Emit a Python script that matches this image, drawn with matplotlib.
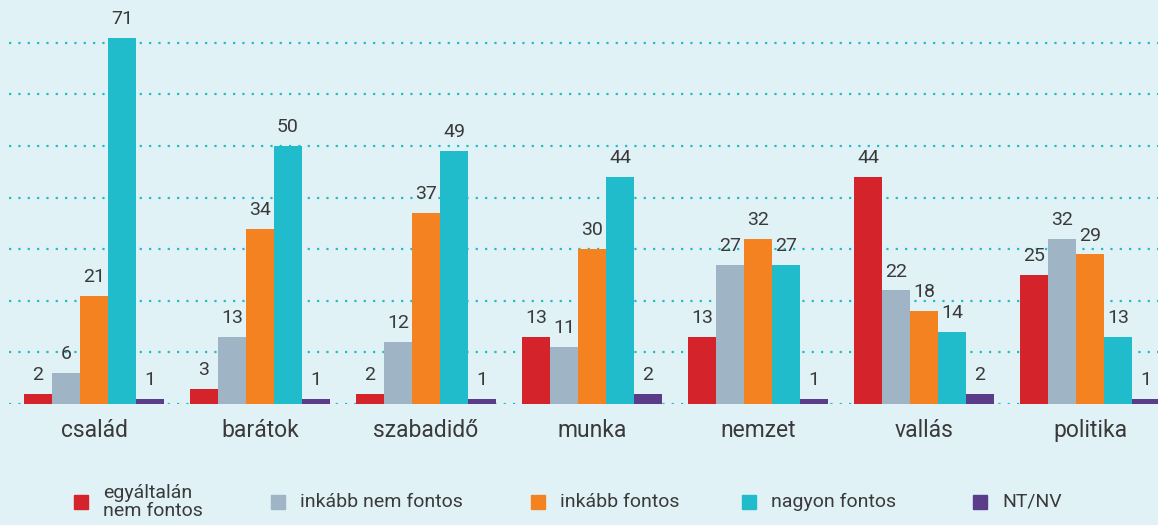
import numpy as np
import matplotlib.pyplot as plt
from matplotlib.patches import Rectangle

plt.rcParams['font.family'] = ['Roboto', 'DejaVu Sans']

# Adatok
categories = ['család', 'barátok', 'szabadidő', 'munka', 'nemzet', 'vallás', 'politika']
series_names = ['egyáltalán\nnem fontos', 'inkább nem fontos', 'inkább fontos', 'nagyon fontos', 'NT/NV']
egyaltalan = [2, 3, 2, 13, 13, 44, 25]
inkabb_nem = [6, 13, 12, 11, 27, 22, 32]
inkabb = [21, 34, 37, 30, 32, 18, 29]
nagyon = [71, 50, 49, 44, 27, 14, 13]
ntnv = [1, 1, 1, 2, 1, 2, 1]

colors = ['#d4232b', '#9fb5c5', '#f58220', '#20bccb', '#5b3c8a']
bg = '#e1f2f7'
txt = '#3a3a3a'

series = [egyaltalan, inkabb_nem, inkabb, nagyon, ntnv]

fig = plt.figure(figsize=(11.58, 5.25), dpi=100, facecolor=bg)
ax = fig.add_axes([9 / 1158, 121 / 525, 1149 / 1158, 404 / 525])
ax.set_facecolor(bg)

x = np.arange(len(categories))
w = 28 / 166
for i, (vals, c) in enumerate(zip(series, colors)):
    pos = x + (i - 2) * w
    ax.bar(pos, vals, width=w, color=c, zorder=3)
    for p, v in zip(pos, vals):
        ax.text(p, v + 1.9, str(v), ha='center', va='bottom', fontsize=14, color=txt)

# szaggatott rácsvonalak
for g in range(0, 80, 10):
    ax.axhline(g, color='#20bccb', linestyle=(0, (1, 3.2)), linewidth=1.6, zorder=1)

ax.set_xlim((9 - 94) / 166, (1158 - 94) / 166)
ax.set_ylim(0, 404 / 5.16)
for s in ax.spines.values():
    s.set_visible(False)
ax.set_yticks([])
ax.set_xticks(x)
ax.set_xticklabels(categories, fontsize=16.5, color=txt)
ax.tick_params(axis='x', length=0, pad=11)

# jelmagyarázat
marker_x = [74, 271, 531, 742, 973]
for mx, name, c in zip(marker_x, series_names, colors):
    fig.patches.append(Rectangle((mx / 1158, 1 - 509 / 525), 14 / 1158, 14 / 525,
                                 transform=fig.transFigure, color=c, figure=fig))
    fig.text((mx + 29) / 1158, 1 - 502 / 525, name, ha='left', va='center',
             fontsize=14, color=txt, linespacing=0.95)

fig.savefig('out.png', dpi=100, facecolor=bg)
